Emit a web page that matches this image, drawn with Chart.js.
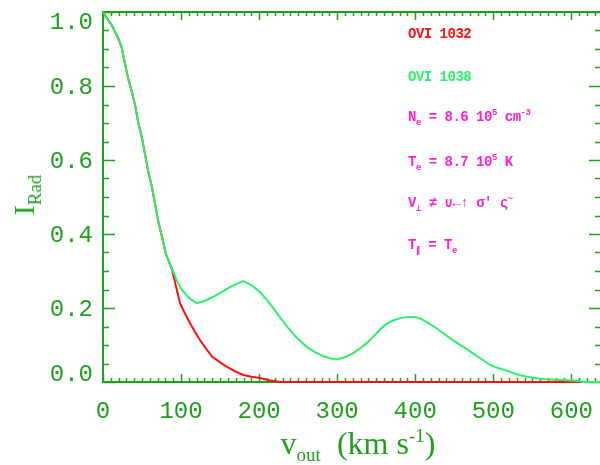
<!DOCTYPE html>
<html>
<head>
<meta charset="utf-8">
<script src="https://cdn.jsdelivr.net/npm/chart.js@4.4.0/dist/chart.umd.min.js"></script>
<style>
    html, body { margin: 0; padding: 0; background: #fff; overflow: hidden; }
    #wrap { position: relative; width: 600px; height: 465px; overflow: hidden; }
    #plot { position: absolute; left: 0; top: 0; }
    .note {
        position: absolute; left: 408px;
        font: bold 14px "Liberation Mono", monospace;
        letter-spacing: -0.5px; white-space: nowrap; line-height: 1;
        transform: translateY(-50%);
    }
    .note sub, .note sup { font-size: 9px; line-height: 0; }
    .title { position: absolute; font-family: "Liberation Serif", serif; color: #1ea01e; white-space: nowrap; line-height: 1; }
    .title sub, .title sup { font-size: 19px; line-height: 0; }
</style>
</head>
<body>
<div id="wrap">
    <canvas id="plot" width="604" height="465"></canvas>
    <div class="note" style="top:34px;color:#ff1010">OVI 1032</div>
    <div class="note" style="top:77px;color:#2cf06a">OVI 1038</div>
    <div class="note" style="top:117px;color:#ff20c8">N<sub>e</sub> = 8.6 10<sup>5</sup> cm<sup>-3</sup></div>
    <div class="note" style="top:162px;color:#ff20c8">T<sub>e</sub> = 8.7 10<sup>5</sup> K</div>
    <div class="note" style="top:203px;color:#ff20c8">V<sub>&perp;</sub> &ne; &cup;&larr;&uarr; &sigma;' &sigmaf;<sup>~</sup></div>
    <div class="note" style="top:245px;color:#ff20c8">T<sub>&par;</sub> = T<sub>e</sub></div>
    <div class="title" style="left:24px;top:195px;font-size:30px;transform:translate(-50%,-50%) rotate(-90deg)">I<sub>Rad</sub></div>
    <div class="title" style="left:358px;top:443px;font-size:32px;transform:translate(-50%,-50%)">v<sub>out</sub>&nbsp; (km s<sup>-1</sup>)</div>
</div>
<script>
const axisGreen = '#1ea01e';

// O VI 1038 line profile
const velocity1038 = [0, 3, 11, 19, 24, 28, 32, 37, 41, 45, 50, 54, 58, 63, 67, 71, 76, 80, 85,
    90, 95, 100, 110, 120, 130, 141, 152, 163, 172, 180, 190, 201, 210, 217, 226, 236, 248, 261,
    272, 282, 291, 299, 310, 321, 330, 338, 346, 355, 362, 370, 380, 390, 400, 408, 415, 424, 432,
    443, 454, 465, 475, 486, 496, 507, 518, 530, 543, 555, 564, 580, 595, 608, 615, 638];
const intensity1038 = [1.0, 0.99, 0.965, 0.932, 0.903, 0.862, 0.822, 0.784, 0.749, 0.703, 0.659,
    0.614, 0.568, 0.524, 0.478, 0.432, 0.389, 0.35, 0.322,
    0.298, 0.272, 0.252, 0.228, 0.213, 0.219, 0.23, 0.243, 0.257, 0.266, 0.273, 0.262, 0.243, 0.222,
    0.203, 0.177, 0.149, 0.12, 0.095, 0.08, 0.07, 0.064, 0.061, 0.067, 0.079, 0.092, 0.105, 0.122,
    0.142, 0.155, 0.165, 0.172, 0.176, 0.176, 0.17, 0.162, 0.15, 0.138, 0.121, 0.105, 0.09, 0.076,
    0.06, 0.046, 0.037, 0.03, 0.021, 0.014, 0.01, 0.008, 0.006, 0.005, 0.003, 0, 0];

// O VI 1032 line profile
const velocity1032 = [0, 3, 11, 19, 24, 28, 32, 37, 41, 45, 50, 54, 58, 63, 67, 71, 76, 80, 85,
    88.5, 93, 98.7, 105, 111.5, 118, 124, 132, 140, 150, 159, 170, 180, 190, 201, 214, 228, 613];
const intensity1032 = [1.0, 0.99, 0.965, 0.932, 0.903, 0.862, 0.822, 0.784, 0.749, 0.703, 0.659,
    0.614, 0.568, 0.524, 0.478, 0.432, 0.389, 0.35, 0.322,
    0.303, 0.263, 0.213, 0.185, 0.159, 0.135, 0.114, 0.09, 0.068, 0.053, 0.041, 0.028, 0.019,
    0.014, 0.011, 0.004, 0, 0];

const xTicks = [0, 100, 200, 300, 400, 500, 600];
const yTicks = [0, 0.2, 0.4, 0.6, 0.8, 1.0];

function points(xs, ys) {
    return xs.map((x, i) => ({ x: x, y: ys[i] }));
}

// box round the plot with inward ticks on all four sides
const frame = {
    id: 'frame',
    beforeDatasetsDraw(chart) {
        const { ctx, chartArea: a, scales: { x, y } } = chart;
        ctx.save();
        ctx.strokeStyle = axisGreen;
        ctx.lineWidth = 2;
        ctx.strokeRect(a.left, a.top, a.right - a.left, a.bottom - a.top);
        ctx.beginPath();
        for (let v = 0; v <= x.max; v += 10) {
            const px = Math.round(x.getPixelForValue(v)) + 0.5;
            const len = v % 100 === 0 ? 8 : 4;
            ctx.moveTo(px, a.bottom); ctx.lineTo(px, a.bottom - len);
            ctx.moveTo(px, a.top); ctx.lineTo(px, a.top + len);
        }
        for (let i = 0; i <= 20; i++) {
            const py = Math.round(y.getPixelForValue(i * 0.05)) + 0.5;
            const len = i % 4 === 0 ? 12 : 6;
            ctx.moveTo(a.left, py); ctx.lineTo(a.left + len, py);
            ctx.moveTo(a.right, py); ctx.lineTo(a.right - len, py);
        }
        ctx.lineWidth = 1.5;
        ctx.stroke();
        ctx.restore();
    }
};

new Chart(document.getElementById('plot'), {
    type: 'line',
    data: {
        datasets: [{
            label: 'OVI 1038',
            data: points(velocity1038, intensity1038),
            borderColor: '#2cf06a',
            borderWidth: 2,
            pointRadius: 0,
            tension: 0,
            clip: false
        }, {
            label: 'OVI 1032',
            data: points(velocity1032, intensity1032),
            borderColor: '#ff1010',
            borderWidth: 2,
            pointRadius: 0,
            tension: 0,
            clip: false
        }]
    },
    options: {
        responsive: false,
        animation: false,
        layout: { padding: { top: 12, right: 3, left: 0, bottom: 0 } },
        plugins: { legend: { display: false }, tooltip: { enabled: false } },
        scales: {
            x: {
                type: 'linear',
                min: 0,
                max: 638,
                grid: { display: false, drawTicks: false },
                border: { display: false },
                afterBuildTicks(scale) { scale.ticks = xTicks.map(v => ({ value: v })); },
                afterFit(scale) {
                    scale.height = 83;
                    scale.paddingLeft = 0; scale.paddingRight = 0;
                },
                ticks: {
                    color: axisGreen,
                    padding: 15,
                    maxRotation: 0,
                    font: { family: 'Liberation Mono', size: 24 }
                }
            },
            y: {
                min: 0,
                max: 1.0,
                grid: { display: false, drawTicks: false },
                border: { display: false },
                afterBuildTicks(scale) { scale.ticks = yTicks.map(v => ({ value: v })); },
                afterFit(scale) {
                    scale.width = 103;
                    scale.paddingTop = 0; scale.paddingBottom = 0;
                },
                ticks: {
                    color: axisGreen,
                    padding: 10,
                    labelOffset: 2,
                    font: { family: 'Liberation Mono', size: 24, lineHeight: 0.75 },
                    // end labels are pulled inside the frame
                    callback: v => v === 1 ? ['', v.toFixed(1)] : v === 0 ? [v.toFixed(1), ''] : v.toFixed(1)
                }
            }
        }
    },
    plugins: [frame]
});
</script>
</body>
</html>
